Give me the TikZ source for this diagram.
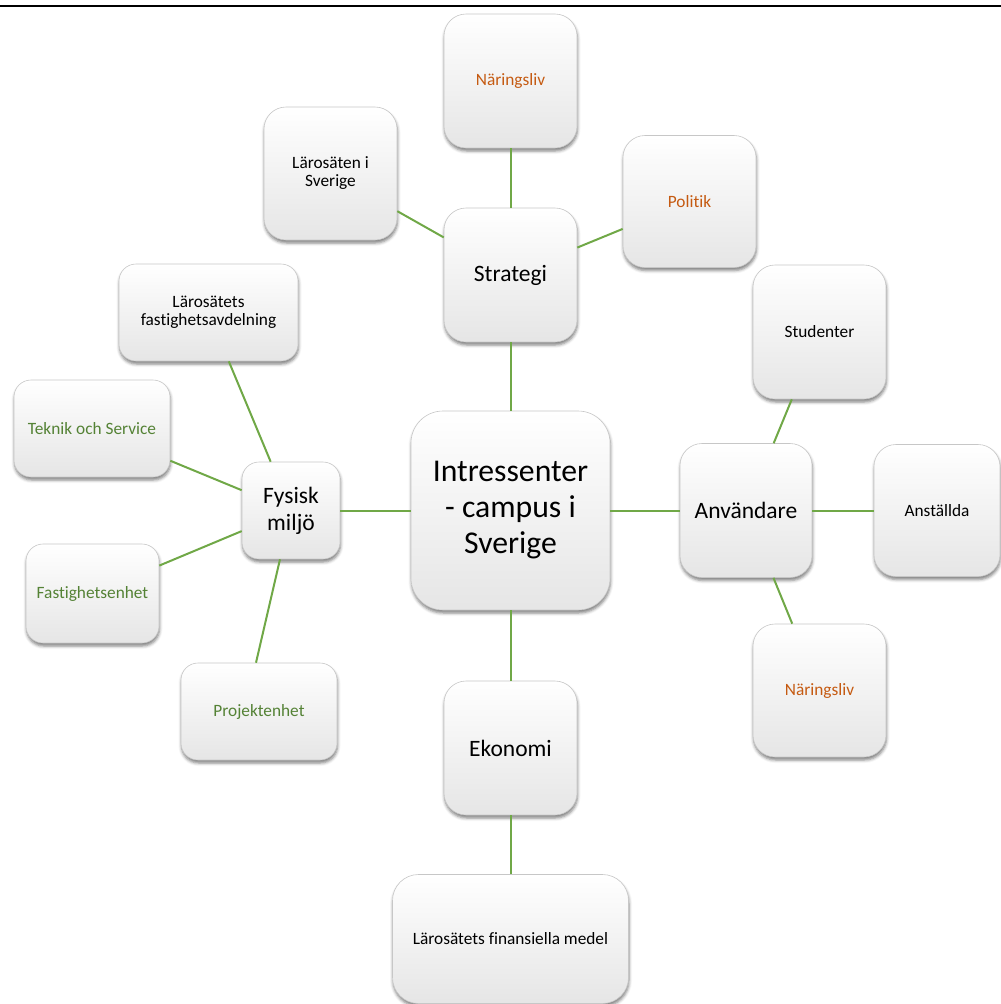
\documentclass[tikz,border=0pt]{standalone}
\usepackage{fontspec}
\setmainfont[Ligatures={NoCommon}]{Carlito}
\usetikzlibrary{calc,shadows.blur}

\definecolor{linkgreen}{RGB}{112,168,71}
\definecolor{txtgreen}{RGB}{84,130,53}
\definecolor{txtorange}{RGB}{197,90,17}

\tikzset{
  card/.style n args={3}{
    draw=black!22, line width=0.6pt,
    rectangle, rounded corners=#3,
    minimum width=#1, minimum height=#2,
    inner sep=0pt, align=center,
    top color=white, middle color=white, bottom color=black!10,
    blur shadow={shadow xshift=0.5pt, shadow yshift=-3pt, shadow blur radius=3pt, shadow opacity=50}
  },
  smalltxt/.style={font=\fontsize{17.3}{18}\selectfont},
  midtxt/.style={font=\fontsize{23.5}{27}\selectfont},
  bigtxt/.style={font=\fontsize{31.7}{36}\selectfont},
  link/.style={draw=linkgreen, line width=2pt}
}

\begin{document}
\begin{tikzpicture}[x=1pt,y=-1pt]
  \useasboundingbox (0,0) rectangle (1001,1004);

  % rule across the top
  \draw[line width=2.3pt] (0,6) -- (1001,6);

  % hub and main categories
  \node[card={199pt}{199pt}{32pt}, bigtxt] (hub) at (510.5,510.5) {Intressenter\\- campus i\\Sverige};
  \node[card={133pt}{134pt}{22pt}, midtxt] (strat) at (510.5,275) {Strategi};
  \node[card={98pt}{97pt}{17pt}, midtxt] (fys) at (291,510.5) {Fysisk\\miljö};
  \node[card={132pt}{134pt}{22pt}, midtxt] (anv) at (746,510.5) {Användare};
  \node[card={133pt}{134pt}{22pt}, midtxt] (eko) at (510.5,748) {Ekonomi};

  % Strategi branch
  \node[card={133pt}{134pt}{22pt}, smalltxt, text=txtorange] (nar1) at (510.5,81) {Näringsliv};
  \node[card={133pt}{133pt}{22pt}, smalltxt] (laro) at (330.5,173.5) {Lärosäten i\\Sverige};
  \node[card={133pt}{132pt}{22pt}, smalltxt, text=txtorange] (pol) at (689.5,201.5) {Politik};

  % Fysisk miljö branch
  \node[card={179pt}{97pt}{17pt}, smalltxt] (favd) at (208.5,312.5) {Lärosätets\\fastighetsavdelning};
  \node[card={156pt}{97pt}{17pt}, smalltxt, text=txtgreen] (tek) at (92,428.5) {Teknik och Service};
  \node[card={133pt}{99pt}{17pt}, smalltxt, text=txtgreen] (fenh) at (92.5,593.5) {Fastighetsenhet};
  \node[card={156pt}{97pt}{17pt}, smalltxt, text=txtgreen] (proj) at (259,711.5) {Projektenhet};

  % Användare branch
  \node[card={133pt}{134pt}{22pt}, smalltxt] (stud) at (819.5,332) {Studenter};
  \node[card={126pt}{132pt}{22pt}, smalltxt] (anst) at (937,510.5) {Anställda};
  \node[card={133pt}{133pt}{22pt}, smalltxt, text=txtorange] (nar2) at (819.5,690.5) {Näringsliv};

  % Ekonomi branch
  \node[card={236pt}{129pt}{26pt}, smalltxt] (fin) at (510.5,939) {Lärosätets finansiella medel};

  % connectors
  \draw[link] (hub) -- (strat);
  \draw[link] (hub) -- (fys);
  \draw[link] (hub) -- (anv);
  \draw[link] (hub) -- (eko);
  \draw[link] (strat) -- (nar1);
  \draw[link] (strat) -- (laro);
  \draw[link] (strat) -- (pol);
  \draw[link] (fys) -- (favd);
  \draw[link] (fys) -- (tek);
  \draw[link] (fys) -- (fenh);
  \draw[link] ($(fys.south)+(-11,0)$) -- ($(proj.north)+(-3,0)$);
  \draw[link] (anv) -- (stud);
  \draw[link] (anv) -- (anst);
  \draw[link] (anv) -- (nar2);
  \draw[link] (eko) -- (fin);
\end{tikzpicture}
\end{document}
